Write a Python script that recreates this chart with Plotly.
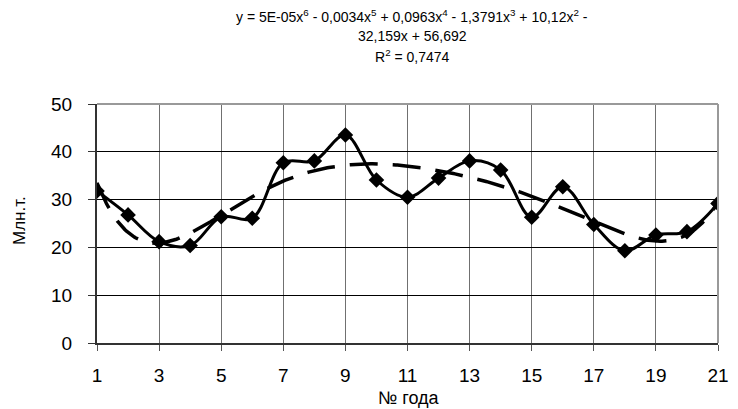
import numpy as np
import plotly.graph_objects as go

years = list(range(1, 22))
values = [31.8, 26.8, 21.2, 20.4, 26.4, 26.1, 37.7, 38.1, 43.5, 34.1, 30.5,
          34.5, 38.1, 36.2, 26.3, 32.7, 24.8, 19.3, 22.6, 23.3, 29.2]
x_ticks = [1, 3, 5, 7, 9, 11, 13, 15, 17, 19, 21]
y_ticks = [0, 10, 20, 30, 40, 50]

# 6th-degree polynomial trend, fitted to the data (as in the original chart)
coef = np.polyfit(years, values, 6)
xt = np.linspace(1, 21, 400)
yt = np.polyval(coef, xt)

FONT = "Liberation Sans, Arial"
L, R, T, B = 97, 20, 104, 66
W, H = 738, 409
ph = H - T - B
pw = W - L - R

def py(ypx):
    return (H - B - ypx) / ph

def px(xpx):
    return (xpx - L) / pw

fig = go.Figure()
fig.add_trace(go.Scatter(x=xt, y=yt, mode="lines",
                         line=dict(color="black", width=3.5, dash="28px,15px"),
                         showlegend=False, hoverinfo="skip"))
fig.add_trace(go.Scatter(x=years, y=values, mode="lines+markers",
                         line=dict(color="black", width=3, shape="spline", smoothing=1),
                         marker=dict(symbol="diamond", size=12, color="black"),
                         showlegend=False))

title_lines = [
    "y = 5E-05x<sup>6</sup> - 0,0034x<sup>5</sup> + 0,0963x<sup>4</sup> - 1,3791x<sup>3</sup> + 10,12x<sup>2</sup> -",
    "32,159x + 56,692",
    "R<sup>2</sup> = 0,7474",
]
title_y = [16, 36, 56]
annotations = []
for txt, yy in zip(title_lines, title_y):
    annotations.append(dict(text=txt, xref="paper", yref="paper", x=px(412), y=py(yy),
                            xanchor="center", yanchor="middle", showarrow=False,
                            font=dict(size=14, family=FONT, color="black")))
annotations.append(dict(text="№ года", xref="paper", yref="paper", x=px(409), y=py(398),
                        xanchor="center", yanchor="middle", showarrow=False,
                        font=dict(size=18, family=FONT, color="black")))
annotations.append(dict(text="Млн.т.", xref="paper", yref="paper", x=px(19), y=py(221),
                        xanchor="center", yanchor="middle", showarrow=False, textangle=-90,
                        font=dict(size=17, family=FONT, color="black")))

fig.update_layout(
    width=W, height=H,
    margin=dict(l=L, r=R, t=T, b=B),
    paper_bgcolor="white", plot_bgcolor="white",
    font=dict(family=FONT, color="black", size=19),
    xaxis=dict(range=[1, 21], tickvals=x_ticks, showgrid=True, gridcolor="#707070", gridwidth=1,
               showline=True, linecolor="#333333", linewidth=2, mirror=False,
               ticks="outside", ticklen=6, tickcolor="#555555", zeroline=False,
               ticklabelstandoff=8, automargin=False, tickfont=dict(size=19)),
    yaxis=dict(range=[0, 50], tickvals=y_ticks, showgrid=True, gridcolor="black", gridwidth=1,
               showline=True, linecolor="#333333", linewidth=2,
               ticks="outside", ticklen=7, tickcolor="#333333", zeroline=False,
               ticklabelstandoff=12, automargin=False, tickfont=dict(size=19)),
    annotations=annotations,
    shapes=[
        dict(type="line", xref="paper", yref="paper", x0=0, x1=1, y0=1, y1=1,
             line=dict(color="#999999", width=2)),
        dict(type="line", xref="paper", yref="paper", x0=1, x1=1, y0=0, y1=1,
             line=dict(color="#999999", width=2)),
    ],
)

fig.write_html("out.html", config={"displayModeBar": False},
               post_script="document.body.style.margin='0';")
